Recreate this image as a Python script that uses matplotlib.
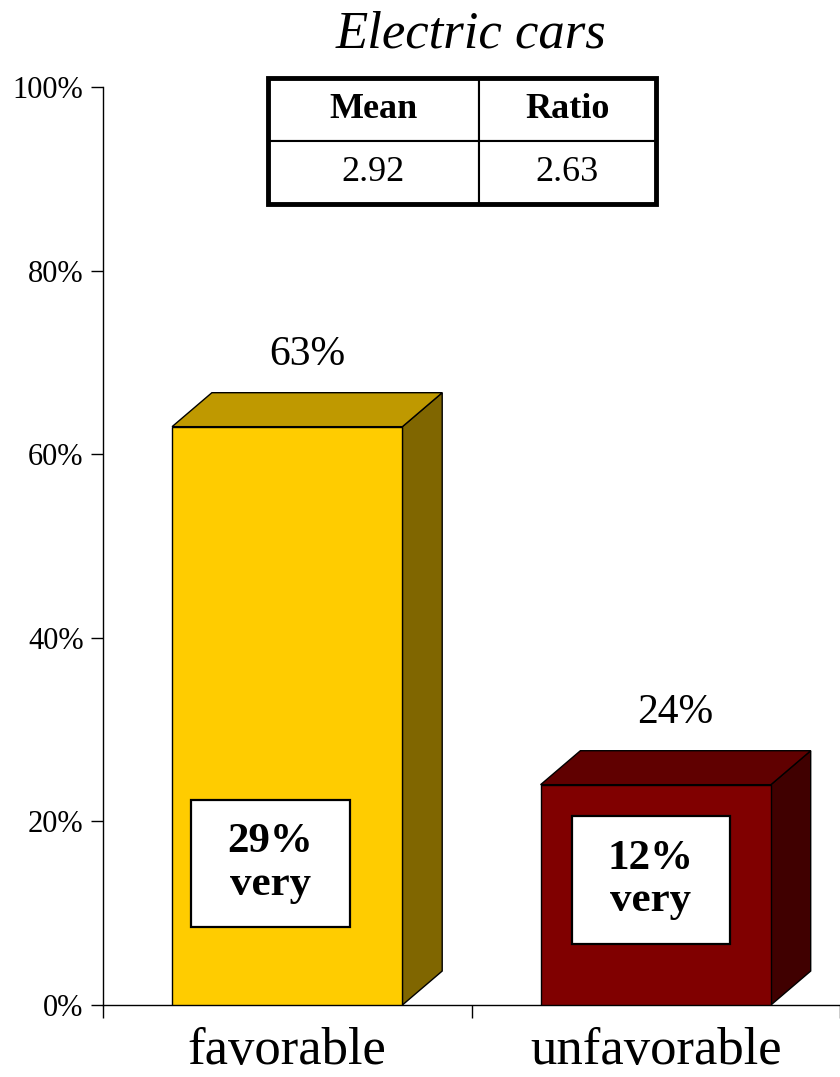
import matplotlib.pyplot as plt
from matplotlib.patches import Polygon, Rectangle

plt.rcParams['font.family'] = ['Liberation Serif', 'DejaVu Serif']

# data
categories = ['favorable', 'unfavorable']
values = [63, 24]
very_values = [29, 12]
table_cols = ['Mean', 'Ratio']
table_vals = ['2.92', '2.63']
title = 'Electric cars'

front_colors = ['#FFCC00', '#800000']
top_colors = ['#BF9900', '#600000']
side_colors = ['#806600', '#400000']

fig = plt.figure(figsize=(8.4, 10.77), dpi=100)
ax = fig.add_axes([103 / 840, 72 / 1077, 737 / 840, 918 / 1077])
ax.set_xlim(0, 737 / 372)
ax.set_ylim(0, 100)

width = 0.625
dx, dy = 0.108, 3.7  # 3d depth
centers = [i + 0.5 for i in range(len(categories))]

ax.bar(centers, values, width=width, color=front_colors, edgecolor='black', linewidth=1, zorder=3)
for c, v, tc, sc in zip(centers, values, top_colors, side_colors):
    x0, x1 = c - width / 2, c + width / 2
    top = Polygon([(x0, v), (x0 + dx, v + dy), (x1 + dx, v + dy), (x1, v)],
                  closed=True, facecolor=tc, edgecolor='black', linewidth=1, zorder=3, clip_on=False)
    side = Polygon([(x1, 0), (x1 + dx, dy), (x1 + dx, v + dy), (x1, v)],
                   closed=True, facecolor=sc, edgecolor='black', linewidth=1, zorder=2, clip_on=False)
    ax.add_patch(top)
    ax.add_patch(side)
    ax.text(c + dx / 2, v + 6.7, f'{v}%', ha='center', va='baseline', fontsize=30)

# "very" boxes
box_x = [0.454, 1.487]
box_y = [15.4, 13.6]
box_w, box_h = 0.43, 13.9
for bx, by, vv in zip(box_x, box_y, very_values):
    ax.add_patch(Rectangle((bx - box_w / 2, by - box_h / 2), box_w, box_h,
                           facecolor='white', edgecolor='black', linewidth=1.6, zorder=4))
    ax.text(bx, by, f'{vv}%\nvery', ha='center', va='center', fontsize=31,
            fontweight='bold', linespacing=1.15, zorder=5)

# axes styling
for s in ['top', 'right']:
    ax.spines[s].set_visible(False)
ax.spines['left'].set_linewidth(1)
ax.spines['bottom'].set_linewidth(1)
ax.set_yticks(range(0, 101, 20))
ax.set_yticklabels([f'{t}%' for t in range(0, 101, 20)])
ax.tick_params(axis='y', direction='out', length=9, width=1, pad=5, labelsize=22)
ax.set_xticks([0, 1, 2])
ax.set_xticklabels([])
ax.tick_params(axis='x', which='major', direction='out', length=9, width=1)
ax.set_xticks(centers, minor=True)
ax.set_xticklabels(categories, minor=True)
ax.tick_params(axis='x', which='minor', length=0, pad=16, labelsize=38)

# stats table
tbl = ax.table(cellText=[table_vals], colLabels=table_cols, cellLoc='center',
               colWidths=[211, 177], bbox=[0.224, 0.8726, 0.526, 0.1372])
tbl.auto_set_font_size(False)
for (r, c), cell in tbl.get_celld().items():
    cell.set_linewidth(1.5)
    cell.get_text().set_fontsize(26)
    if r == 0:
        cell.get_text().set_fontweight('bold')
ax.add_patch(Rectangle((0.224, 0.8726), 0.526, 0.1372, transform=ax.transAxes,
                       fill=False, edgecolor='black', linewidth=3.5, clip_on=False, zorder=10))

fig.text(471 / 840, (1077 - 47) / 1077, title, ha='center', va='baseline',
         fontsize=38, fontstyle='italic')

fig.savefig('out.png', dpi=100)
